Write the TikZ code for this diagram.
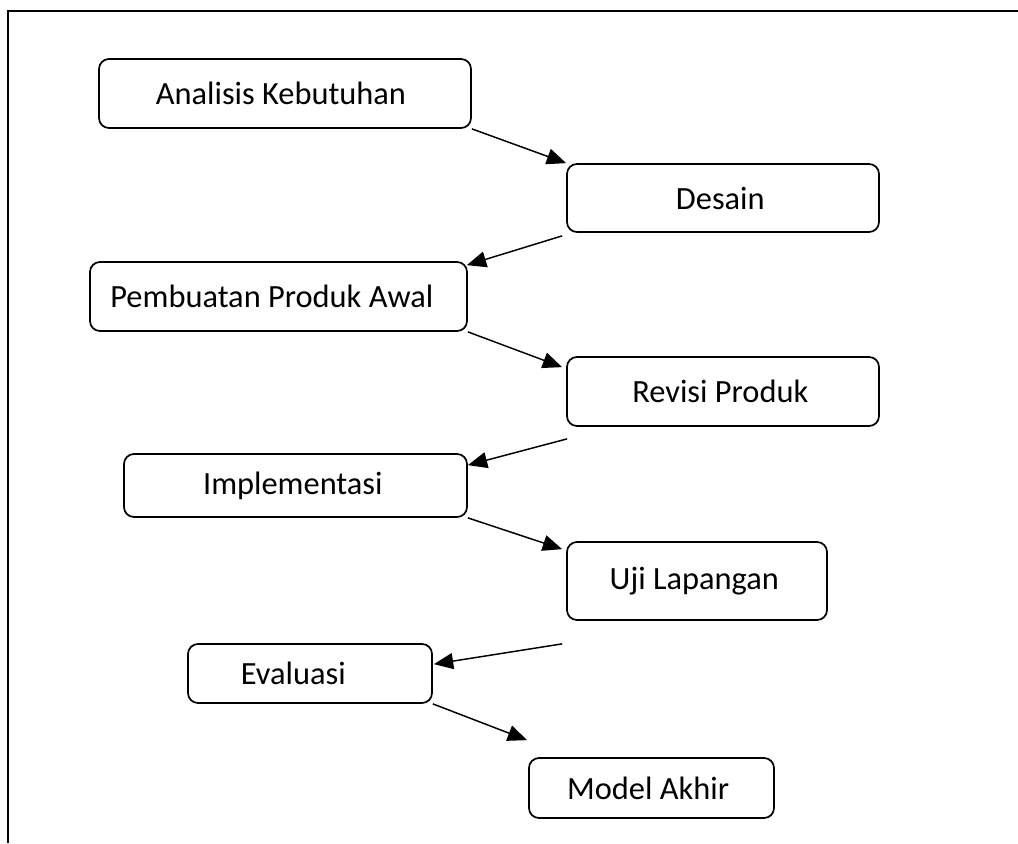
\documentclass[tikz,border=0pt]{standalone}
\usepackage{fontspec}
\setmainfont{Carlito}
\usetikzlibrary{arrows.meta}
\begin{document}
\begin{tikzpicture}[x=0.75pt,y=-0.75pt,
  bx/.style 2 args={draw, line width=1.3pt, rounded corners=7.5pt, inner sep=0pt,
    minimum width=#1*0.75pt, minimum height=#2*0.75pt,
    font=\fontsize{24.3pt}{29pt}\selectfont},
  conn/.style={line width=1.1pt, -{Triangle[length=14.5pt,width=12pt]}},
  frame/.style={line width=1.3pt}]
\useasboundingbox (0,0) rectangle (1018,843);
\coordinate (ftr) at (1018,11);
\coordinate (ftl) at (8,11);
\coordinate (fbl) at (8,843);
\draw[frame] (ftr) -- (ftl) -- (fbl);

\node[bx={372}{69}] (a) at (285,93.5) {\hspace*{-6pt}Analisis Kebutuhan};
\node[bx={312}{68}] (d) at (723,198) {\hspace*{-4pt}Desain};
\node[bx={377}{69}] (p) at (278.5,296.5) {\hspace*{-10pt}Pembuatan Produk Awal};
\node[bx={312}{69}] (r) at (723,391.5) {\hspace*{-4pt}Revisi Produk};
\node[bx={343}{63}] (i) at (295.5,485.5) {\hspace*{-4pt}Implementasi};
\node[bx={260}{78}] (u) at (697,581) {\hspace*{-4pt}\raisebox{3pt}{Uji Lapangan}};
\node[bx={244}{59}] (e) at (310,673.5) {\hspace*{-25pt}Evaluasi};
\node[bx={245}{60}] (m) at (651.5,788) {\hspace*{-5pt}Model Akhir};

\draw[conn] (a.south east) -- (d.north west);
\draw[conn] ([shift={(-4,3)}]d.south west) -- ([shift={(-1,4)}]p.north east);
\draw[conn] (p.south east) -- ([shift={(-4,11)}]r.north west);
\draw[conn] ([shift={(1,12)}]r.south west) -- ([shift={(0,12)}]i.north east);
\draw[conn] (i.south east) -- ([shift={(-4,8)}]u.north west);
\draw[conn] ([shift={(-4,23)}]u.south west) -- ([shift={(1,21)}]e.north east);
\draw[conn] (e.south east) -- ([shift={(-1,-17)}]m.north west);
\end{tikzpicture}
\end{document}
